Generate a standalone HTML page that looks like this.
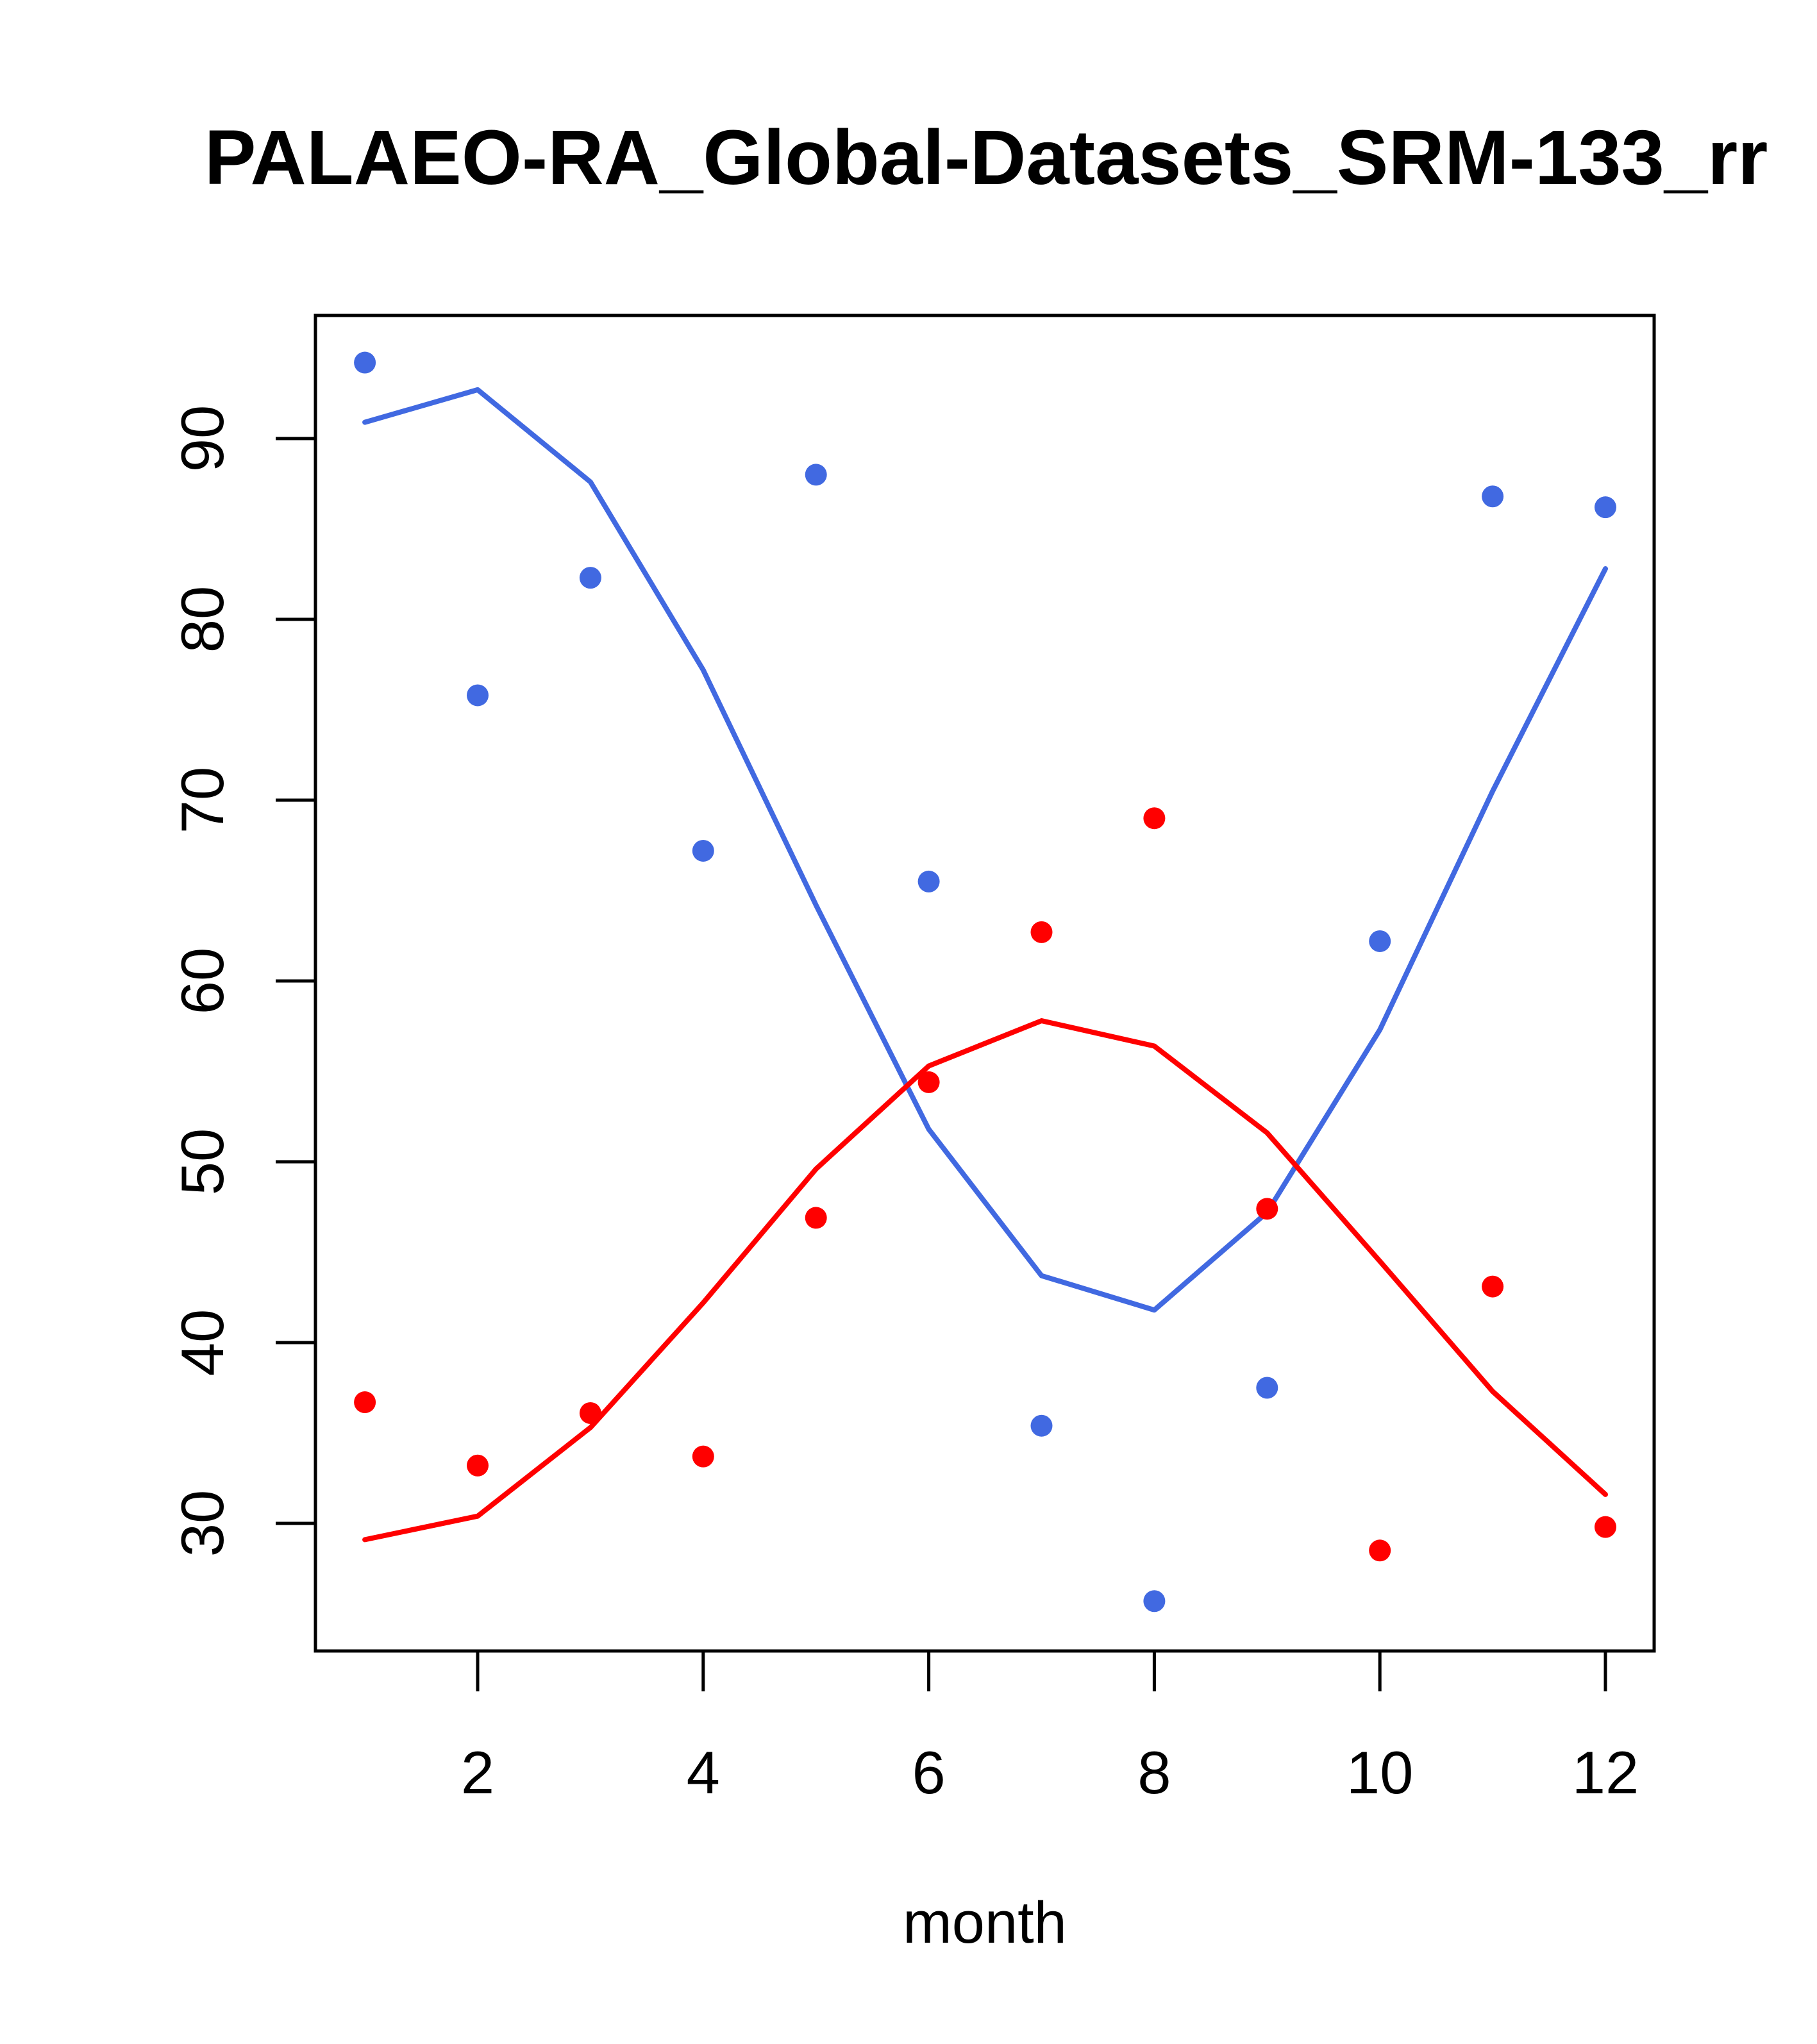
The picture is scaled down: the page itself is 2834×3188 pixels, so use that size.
<!DOCTYPE html>
<html><head><meta charset="utf-8"><style>body{margin:0;background:#fff}svg{display:block}</style></head>
<body>
<svg id="chart" width="2834" height="3188" viewBox="0 0 2834 3188" xmlns="http://www.w3.org/2000/svg" font-family="Liberation Sans, sans-serif">
<text x="1538" y="287" text-anchor="middle" font-size="121" font-weight="bold">PALAEO-RA_Global-Datasets_SRM-133_rr</text>
<rect x="492" y="492" width="2088" height="2083" fill="none" stroke="#000" stroke-width="5"/>
<g id="axes"></g>
<g id="series"></g>
<text x="1536" y="3030" text-anchor="middle" font-size="92">month</text>
</svg>
<script>
const months=[1,2,3,4,5,6,7,8,9,10,11,12];
const bluePoints=[94.2,75.8,82.3,67.2,88.0,65.5,35.4,25.7,37.5,62.2,86.8,86.2];
const blueLine=[90.9,92.7,87.6,77.2,64.2,51.8,43.7,41.8,47.2,57.3,70.5,82.8];
const redPoints=[36.7,33.2,36.1,33.7,46.9,54.4,62.7,69.0,47.4,28.5,43.1,29.8];
const redLine=[29.1,30.4,35.3,42.2,49.6,55.3,57.8,56.4,51.6,44.5,37.3,31.6];
const xTicks=[2,4,6,8,10,12];
const yTicks=[30,40,50,60,70,80,90];
const NS='http://www.w3.org/2000/svg';
function X(v){return 745+(v-2)*(2504-745)/10;}
function Y(v){return 2376-(v-30)*(2376-684)/60;}
const axes=document.getElementById('axes'),ser=document.getElementById('series');
function mk(t,a,p){const e=document.createElementNS(NS,t);for(const k in a)e.setAttribute(k,a[k]);p.appendChild(e);return e;}
xTicks.forEach(v=>{
 const l=mk('line',{x1:X(v),x2:X(v),y1:2575,y2:2638,stroke:'#000','stroke-width':5},axes);
 
 
 const t=mk('text',{x:X(v),y:2797,'text-anchor':'middle','font-size':94},axes);
 t.textContent=v;
 
 
});
yTicks.forEach(v=>{
 const l=mk('line',{x1:430,x2:492,y1:Y(v),y2:Y(v),stroke:'#000','stroke-width':5},axes);
 
 
 const t=mk('text',{x:0,y:0,'text-anchor':'middle','font-size':94,transform:`translate(348,${Y(v)}) rotate(-90)`},axes);
 t.textContent=v;
 
 
});
function line(vals,col,name){
 const p=mk('polyline',{points:months.map((m,i)=>X(m)+','+Y(vals[i])).join(' '),fill:'none',stroke:col,'stroke-width':8,'stroke-linejoin':'round','stroke-linecap':'round'},ser);
 
 
}
function pts(vals,col,name){
 months.forEach((m,i)=>{
  const c=mk('circle',{cx:X(m),cy:Y(vals[i]),r:17,fill:col},ser);
  
  
 });
}
line(blueLine,'#4169E1','blue-line');
line(redLine,'#FF0000','red-line');
pts(bluePoints,'#4169E1','blue-point');
pts(redPoints,'#FF0000','red-point');
</script>
</body></html>
